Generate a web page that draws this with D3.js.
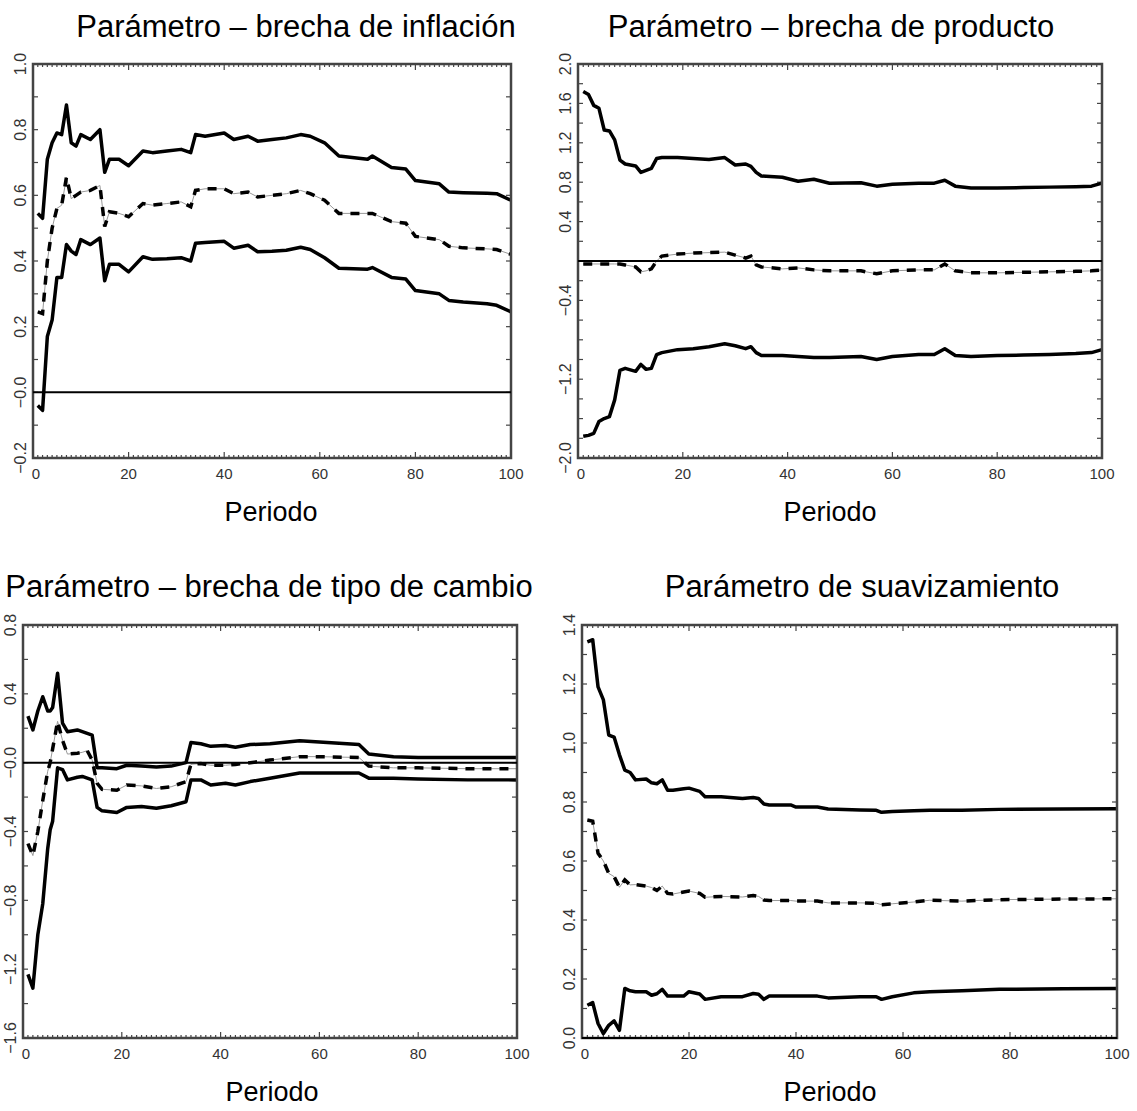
<!DOCTYPE html>
<html>
<head>
<meta charset="utf-8">
<script src="https://cdn.jsdelivr.net/npm/d3@7"></script>
<style>
  body { margin: 0; background: #fff; }
  svg { display: block; }
</style>
</head>
<body>
<div id="main"><svg width="1137" height="1111"></svg></div>
<script>
// --- data ---
var periods1 = [1,2,3,4,5,6,7,8,9,10,12,14,15,16,18,20,23,25,28,31,33,34,36,40,42,45,47,50,53,56,58,61,64,70,71,75,78,80,85,87,90,95,97,100]
var upper1 = [0.545,0.53,0.71,0.76,0.79,0.785,0.875,0.76,0.75,0.785,0.77,0.80,0.67,0.71,0.71,0.69,0.735,0.73,0.735,0.74,0.73,0.785,0.78,0.79,0.77,0.78,0.765,0.77,0.775,0.785,0.78,0.76,0.72,0.71,0.72,0.685,0.68,0.645,0.635,0.61,0.608,0.606,0.605,0.585]
var mid1 = [0.245,0.24,0.40,0.50,0.56,0.57,0.655,0.59,0.60,0.61,0.615,0.63,0.505,0.55,0.545,0.535,0.575,0.57,0.575,0.58,0.565,0.615,0.62,0.62,0.605,0.61,0.595,0.60,0.605,0.615,0.605,0.585,0.545,0.545,0.545,0.52,0.515,0.475,0.465,0.445,0.44,0.437,0.435,0.42]
var lower1 = [-0.04,-0.055,0.17,0.22,0.35,0.35,0.45,0.43,0.42,0.465,0.45,0.47,0.34,0.39,0.39,0.367,0.413,0.405,0.407,0.41,0.40,0.454,0.456,0.46,0.439,0.448,0.428,0.43,0.433,0.442,0.435,0.41,0.378,0.375,0.38,0.35,0.345,0.31,0.30,0.28,0.275,0.27,0.265,0.245]

var periods2 = [1,2,3,4,5,6,7,8,9,11,12,13,14,15,16,19,22,25,28,30,32,33,34,35,39,42,45,48,54,57,60,65,68,70,72,75,80,85,90,95,98,100]
var upper2 = [1.72,1.69,1.58,1.55,1.33,1.32,1.23,1.025,0.985,0.965,0.90,0.92,0.94,1.04,1.05,1.05,1.04,1.03,1.05,0.975,0.985,0.96,0.90,0.863,0.85,0.81,0.83,0.79,0.795,0.76,0.78,0.79,0.79,0.82,0.76,0.74,0.74,0.745,0.75,0.755,0.76,0.79]
var mid2 = [-0.03,-0.03,-0.03,-0.03,-0.03,-0.03,-0.03,-0.03,-0.04,-0.06,-0.11,-0.10,-0.08,0.0,0.05,0.07,0.08,0.085,0.09,0.06,0.03,0.05,-0.04,-0.06,-0.08,-0.07,-0.09,-0.10,-0.10,-0.13,-0.10,-0.09,-0.09,-0.03,-0.10,-0.12,-0.12,-0.115,-0.11,-0.105,-0.10,-0.09]
var lower2 = [-1.78,-1.77,-1.75,-1.63,-1.60,-1.58,-1.41,-1.11,-1.09,-1.12,-1.05,-1.10,-1.09,-0.95,-0.93,-0.90,-0.89,-0.87,-0.84,-0.86,-0.89,-0.87,-0.93,-0.96,-0.96,-0.97,-0.98,-0.98,-0.97,-1.0,-0.97,-0.95,-0.95,-0.89,-0.96,-0.97,-0.96,-0.955,-0.95,-0.94,-0.93,-0.90]

var periods3 = [1,2,3,4,5,5.5,6,7,8,9,11,12,13,14,15,16,19,21,24,27,30,33,34,36,38,41,43,46,50,56,60,68,70,75,80,90,100]
var upper3 = [0.27,0.19,0.30,0.383,0.30,0.30,0.32,0.52,0.23,0.18,0.19,0.18,0.17,0.16,-0.03,-0.03,-0.035,-0.015,-0.02,-0.025,-0.02,0.0,0.117,0.11,0.095,0.10,0.09,0.105,0.11,0.128,0.12,0.105,0.05,0.035,0.03,0.03,0.03]
var mid3 = [-0.47,-0.54,-0.40,-0.22,-0.05,0.0,0.08,0.24,0.13,0.05,0.055,0.06,0.07,0.015,-0.12,-0.155,-0.16,-0.13,-0.135,-0.15,-0.14,-0.11,-0.01,-0.005,-0.015,-0.015,-0.01,0.0,0.015,0.035,0.035,0.03,-0.02,-0.03,-0.03,-0.035,-0.035]
var lower3 = [-1.23,-1.31,-1.0,-0.82,-0.50,-0.39,-0.34,-0.03,-0.04,-0.10,-0.085,-0.08,-0.09,-0.10,-0.26,-0.28,-0.29,-0.26,-0.255,-0.265,-0.25,-0.227,-0.10,-0.10,-0.13,-0.12,-0.13,-0.11,-0.09,-0.06,-0.06,-0.06,-0.09,-0.09,-0.095,-0.10,-0.10]

var periods4 = [1,2,3,4,5,6,7,8,9,10,12,13,14,15,16,17,19,20,22,23,26,30,32,33,34,35,39,40,44,46,52,55,56,58,62,65,71,78,90,100]
var upper4 = [1.343,1.35,1.19,1.146,1.027,1.02,0.96,0.908,0.90,0.875,0.878,0.865,0.862,0.875,0.84,0.84,0.845,0.847,0.836,0.818,0.818,0.812,0.815,0.812,0.793,0.79,0.79,0.783,0.783,0.776,0.773,0.772,0.765,0.768,0.77,0.772,0.772,0.775,0.776,0.777]
var mid4 = [0.739,0.735,0.626,0.60,0.558,0.547,0.511,0.536,0.519,0.52,0.515,0.51,0.50,0.515,0.49,0.488,0.495,0.498,0.49,0.477,0.48,0.478,0.483,0.48,0.468,0.466,0.466,0.464,0.464,0.458,0.458,0.457,0.452,0.455,0.461,0.467,0.464,0.469,0.471,0.472]
var lower4 = [0.111,0.12,0.049,0.015,0.043,0.058,0.026,0.168,0.16,0.157,0.157,0.145,0.15,0.165,0.142,0.142,0.142,0.157,0.149,0.131,0.14,0.14,0.151,0.148,0.131,0.142,0.142,0.142,0.142,0.136,0.14,0.14,0.131,0.14,0.153,0.157,0.16,0.165,0.167,0.168]

var titles = [
  'Parámetro – brecha de inflación',
  'Parámetro – brecha de producto',
  'Parámetro – brecha de tipo de cambio',
  'Parámetro de suavizamiento'
]
var xLabel = 'Periodo'
var xTickLabels = [0, 20, 40, 60, 80, 100]

var yLabelValues1 = [-0.2, 0, 0.2, 0.4, 0.6, 0.8, 1.0]
var yLabelText1 = ['−0.2', '−0.0', '0.2', '0.4', '0.6', '0.8', '1.0']
var yLabelValues2 = [-2.0, -1.2, -0.4, 0.4, 0.8, 1.2, 1.6, 2.0]
var yLabelText2 = ['−2.0', '−1.2', '−0.4', '0.4', '0.8', '1.2', '1.6', '2.0']
var yLabelValues3 = [-1.6, -1.2, -0.8, -0.4, 0, 0.4, 0.8]
var yLabelText3 = ['−1.6', '−1.2', '−0.8', '−0.4', '−0.0', '0.4', '0.8']
var yLabelValues4 = [0, 0.2, 0.4, 0.6, 0.8, 1.0, 1.2, 1.4]
var yLabelText4 = ['0.0', '0.2', '0.4', '0.6', '0.8', '1.0', '1.2', '1.4']

// --- layout ---
var panels = [
  { left: 33, right: 511, top: 64, bottom: 458, yDomain: [-0.2, 1.0], yStep: 0.1,
    periods: periods1, upper: upper1, mid: mid1, lower: lower1,
    labelValues: yLabelValues1, labelText: yLabelText1,
    titleX: 296, titleY: 37, xTitleX: 271, xTitleY: 521 },
  { left: 578, right: 1102, top: 64, bottom: 458, yDomain: [-2.0, 2.0], yStep: 0.2,
    periods: periods2, upper: upper2, mid: mid2, lower: lower2,
    labelValues: yLabelValues2, labelText: yLabelText2,
    titleX: 831, titleY: 37, xTitleX: 830, xTitleY: 521 },
  { left: 23, right: 517, top: 625, bottom: 1038, yDomain: [-1.6, 0.8], yStep: 0.2,
    periods: periods3, upper: upper3, mid: mid3, lower: lower3,
    labelValues: yLabelValues3, labelText: yLabelText3,
    titleX: 269, titleY: 597, xTitleX: 272, xTitleY: 1101 },
  { left: 582, right: 1117, top: 625, bottom: 1038, yDomain: [0, 1.4], yStep: 0.1,
    periods: periods4, upper: upper4, mid: mid4, lower: lower4,
    labelValues: yLabelValues4, labelText: yLabelText4,
    titleX: 862, titleY: 597, xTitleX: 830, xTitleY: 1101 }
]

var svg = d3.select('#main svg')
var frameColor = '#444'
var textFont = '"Liberation Sans", Arial, sans-serif'

function renderPanel (p, i) {
  var x = d3.scaleLinear().domain([0, 100]).range([p.left, p.right])
  var y = d3.scaleLinear().domain(p.yDomain).range([p.bottom, p.top])
  var g = svg.append('g').attr('class', 'panel')

  // titles
  g.append('text')
      .attr('x', p.titleX)
      .attr('y', p.titleY)
      .attr('text-anchor', 'middle')
      .style('font-family', textFont)
      .style('font-size', '31px')
      .text(titles[i])

  g.append('text')
      .attr('x', p.xTitleX)
      .attr('y', p.xTitleY)
      .attr('text-anchor', 'middle')
      .style('font-family', textFont)
      .style('font-size', '27px')
      .text(xLabel)

  // x ticks: minor every period, major every 20
  var xTicks = d3.range(0, 101, 1)
  var tk = g.append('g').attr('stroke', frameColor).attr('stroke-width', 1.2)
  xTicks.forEach(function (t) {
    var len = t % 20 === 0 ? 6 : 3
    tk.append('line').attr('x1', x(t)).attr('x2', x(t)).attr('y1', p.bottom).attr('y2', p.bottom - len)
    tk.append('line').attr('x1', x(t)).attr('x2', x(t)).attr('y1', p.top).attr('y2', p.top + len)
  })

  // y ticks on both sides
  var n = Math.round((p.yDomain[1] - p.yDomain[0]) / p.yStep)
  d3.range(0, n + 1).forEach(function (k) {
    var v = p.yDomain[0] + k * p.yStep
    tk.append('line').attr('x1', p.left).attr('x2', p.left + 5).attr('y1', y(v)).attr('y2', y(v))
    tk.append('line').attr('x1', p.right).attr('x2', p.right - 5).attr('y1', y(v)).attr('y2', y(v))
  })

  // x tick labels
  g.selectAll('text.xl')
    .data(xTickLabels)
    .enter()
    .append('text')
      .attr('class', 'xl')
      .attr('x', function (d) { return x(d) + (d === 0 ? 3 : 0) })
      .attr('y', p.bottom + 21)
      .attr('text-anchor', 'middle')
      .attr('fill', '#333')
      .style('font-family', textFont)
      .style('font-size', '15px')
      .text(function (d) { return d })

  // y tick labels, rotated
  g.selectAll('text.yl')
    .data(p.labelValues)
    .enter()
    .append('text')
      .attr('class', 'yl')
      .attr('transform', function (d) { return 'translate(' + (p.left - 7) + ',' + y(d) + ') rotate(-90)' })
      .attr('text-anchor', 'middle')
      .attr('fill', '#333')
      .style('font-family', textFont)
      .style('font-size', '16px')
      .text(function (d, j) { return p.labelText[j] })

  // series
  var line = d3.line()
      .x(function (d) { return x(d[0]) })
      .y(function (d) { return y(d[1]) })

  function pts (vals) { return p.periods.map(function (t, j) { return [t, vals[j]] }) }

  g.append('path')
      .attr('d', line(pts(p.mid)))
      .attr('fill', 'none')
      .attr('stroke', '#999')
      .attr('stroke-width', 1)

  g.append('path')
      .attr('d', line(pts(p.mid)))
      .attr('fill', 'none')
      .attr('stroke', '#000')
      .attr('stroke-width', 3.5)
      .attr('stroke-dasharray', '9,8')

  ;[p.upper, p.lower].forEach(function (vals) {
    g.append('path')
        .attr('d', line(pts(vals)))
        .attr('fill', 'none')
        .attr('stroke', '#000')
        .attr('stroke-width', 3.5)
        .attr('stroke-linejoin', 'round')
  })

  // frame
  g.append('rect')
      .attr('x', p.left)
      .attr('y', p.top)
      .attr('width', p.right - p.left)
      .attr('height', p.bottom - p.top)
      .attr('fill', 'none')
      .attr('stroke', frameColor)
      .attr('stroke-width', 2.5)

  // zero line
  g.append('line')
      .attr('x1', p.left)
      .attr('x2', p.right)
      .attr('y1', y(0))
      .attr('y2', y(0))
      .attr('stroke', '#000')
      .attr('stroke-width', 2)
}

panels.forEach(renderPanel)
</script>
</body>
</html>
